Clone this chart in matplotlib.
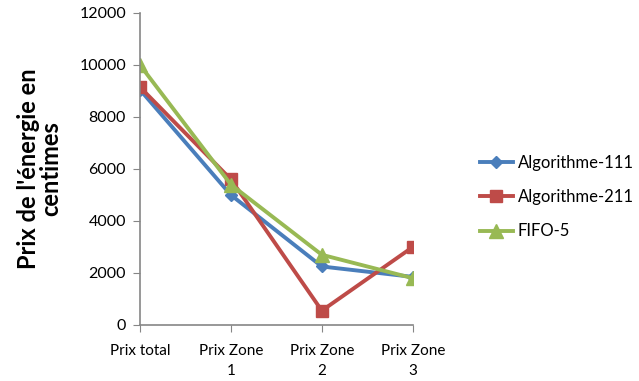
import matplotlib
matplotlib.use('Agg')
import matplotlib.pyplot as plt

# Data
categories = ['Prix total', 'Prix Zone\n1', 'Prix Zone\n2', 'Prix Zone\n3']
algo_111 = [9050, 5000, 2250, 1850]
algo_211 = [9150, 5600, 550, 3000]
fifo_5 = [10000, 5400, 2700, 1800]
y_ticks = [0, 2000, 4000, 6000, 8000, 10000, 12000]

plt.rcParams['font.family'] = ['Lato', 'DejaVu Sans']

fig = plt.figure(figsize=(6.39, 3.81), dpi=100)
ax = fig.add_axes([0.219, 0.147, 0.427, 0.819])

x = list(range(len(categories)))
ax.plot(x, algo_111, color='#4A7EBB', lw=2.8, marker='D', ms=6.5, label='Algorithme-111')
ax.plot(x, algo_211, color='#BE4B48', lw=2.8, marker='s', ms=9, label='Algorithme-211')
ax.plot(x, fifo_5, color='#98B954', lw=2.8, marker='^', ms=10, label='FIFO-5')

ax.set_xlim(0, 3)
ax.set_ylim(0, 12000)
ax.set_yticks(y_ticks)
ax.set_xticks(x)
ax.set_xticklabels(categories, fontsize=11)
ax.tick_params(axis='y', labelsize=11.5, length=5, color='#868686', pad=5)
ax.tick_params(axis='x', length=5, color='#868686', pad=9)
for lbl in ax.get_xticklabels():
    lbl.set_linespacing(1.5)

for side in ['top', 'right']:
    ax.spines[side].set_visible(False)
for side in ['left', 'bottom']:
    ax.spines[side].set_color('#868686')
    ax.spines[side].set_linewidth(1.2)
ax.spines['bottom'].set_zorder(0)

ax.set_ylabel("Prix de l'énergie en\ncentimes", fontsize=17, fontweight='bold',
              labelpad=12, linespacing=1.0)

ax.legend(loc='center left', bbox_to_anchor=(1.245, 0.41), frameon=False,
          fontsize=12, handlelength=2.0, labelspacing=1.1, handletextpad=0.3,
          borderaxespad=0, borderpad=0)

fig.savefig('out.png', dpi=100)
